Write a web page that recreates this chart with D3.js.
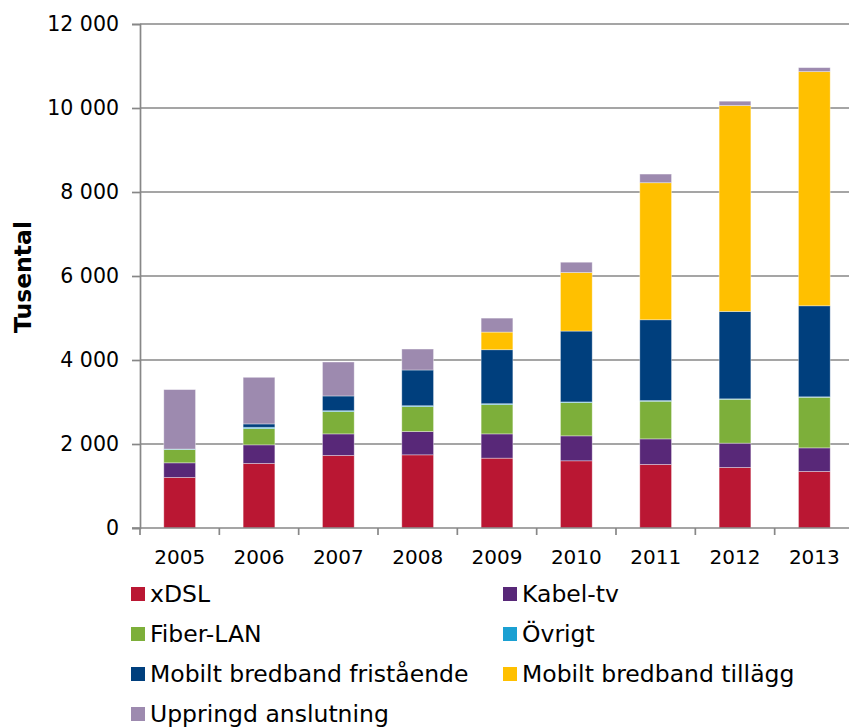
<!DOCTYPE html>
<html>
<head>
<meta charset="utf-8">
<script src="https://cdn.jsdelivr.net/npm/d3@7"></script>
<style>
  body { margin: 0; background: #fff; }
  text { font-family: "DejaVu Sans", Verdana, sans-serif; fill: #000; }
</style>
</head>
<body>
<svg id="chart"></svg>
<script>

var years = ["2005", "2006", "2007", "2008", "2009", "2010", "2011", "2012", "2013"]

// Tusental
var xdsl     = [1205, 1537, 1727, 1742, 1663, 1600, 1513, 1442, 1347]
var kabel    = [347, 443, 514, 555, 578, 594, 609, 578, 561]
var fiber    = [318, 388, 531, 594, 698, 792, 896, 1045, 1205]
var ovrigt   = [10, 30, 20, 20, 20, 15, 15, 10, 10]
var mobFrist = [0, 80, 352, 851, 1286, 1688, 1925, 2081, 2168]
var mobTill  = [0, 0, 0, 0, 420, 1394, 3263, 4902, 5575]
var upringd  = [1415, 1110, 808, 499, 332, 245, 206, 104, 95]

var yTicks = [0, 2000, 4000, 6000, 8000, 10000, 12000]

var series = [
  { key: "xDSL", values: xdsl, color: "#BA1733" },
  { key: "Kabel-tv", values: kabel, color: "#582878" },
  { key: "Fiber-LAN", values: fiber, color: "#7DAF3A" },
  { key: "Övrigt", values: ovrigt, color: "#1BA0D2" },
  { key: "Mobilt bredband fristående", values: mobFrist, color: "#003F7D" },
  { key: "Mobilt bredband tillägg", values: mobTill, color: "#FFC000" },
  { key: "Uppringd anslutning", values: upringd, color: "#9D8AAF" }
]

var width = 849
var height = 727

var svg = d3.select("#chart")
  .attr("width", width)
  .attr("height", height)

var rows = years.map(function(y, i) {
  var r = { year: y }
  series.forEach(function(s) { r[s.key] = s.values[i] })
  return r
})

var stacked = d3.stack().keys(series.map(function(s) { return s.key }))(rows)

var x = d3.scaleBand().domain(years).range([140, 854]).paddingInner(0.6).paddingOuter(0.3)
var xTicksScale = d3.scaleBand().domain(years).range([140, 854])
var y = d3.scaleLinear().domain([0, 12000]).range([528, 24])

var gridColor = "#878787"

// gridlines
svg.append("g")
  .selectAll("line")
  .data(yTicks.slice(1))
  .enter().append("line")
  .attr("x1", 140).attr("x2", width)
  .attr("y1", function(d) { return y(d) }).attr("y2", function(d) { return y(d) })
  .attr("stroke", gridColor).attr("stroke-width", 1.7)

// bars
svg.append("g")
  .selectAll("g")
  .data(stacked)
  .enter().append("g")
  .attr("fill", function(d, i) { return series[i].color })
  .selectAll("rect")
  .data(function(d) { return d })
  .enter().append("rect")
  .filter(function(d) { return d[1] - d[0] > 0 })
  .attr("x", function(d) { return x(d.data.year) })
  .attr("width", x.bandwidth())
  .attr("y", function(d) { return y(d[1]) })
  .attr("height", function(d) { return y(d[0]) - y(d[1]) })
  .attr("stroke", "rgba(255,255,255,0.45)")
  .attr("stroke-width", 0.8)

// y axis
var yAxis = svg.append("g")
  .attr("transform", "translate(140,0)")
  .call(d3.axisLeft(y).tickValues(yTicks).tickSize(8).tickPadding(13)
    .tickFormat(function(d) { return d3.format(",")(d).replace(",", " ") }))
yAxis.select(".domain").attr("stroke", gridColor).attr("stroke-width", 1.7)
yAxis.selectAll(".tick line").attr("stroke", gridColor).attr("stroke-width", 1.7)
yAxis.selectAll("text").style("font-size", "20.5px").style("font-family", "DejaVu Sans, Verdana, sans-serif").attr("fill", "#000")

// x axis
svg.append("line")
  .attr("x1", 132).attr("x2", width)
  .attr("y1", y(0)).attr("y2", y(0))
  .attr("stroke", gridColor).attr("stroke-width", 1.7)

svg.append("g")
  .selectAll("line")
  .data(years)
  .enter().append("line")
  .attr("x1", function(d) { return xTicksScale(d) })
  .attr("x2", function(d) { return xTicksScale(d) })
  .attr("y1", y(0)).attr("y2", y(0) + 7)
  .attr("stroke", gridColor).attr("stroke-width", 1.7)

svg.append("g")
  .selectAll("text")
  .data(years)
  .enter().append("text")
  .attr("x", function(d) { return x(d) + x.bandwidth() / 2 })
  .attr("y", 564)
  .attr("text-anchor", "middle")
  .style("font-size", "20px")
  .text(function(d) { return d })

// y title
svg.append("text")
  .attr("transform", "translate(31,277) rotate(-90)")
  .attr("text-anchor", "middle")
  .style("font-size", "23.5px")
  .style("font-weight", "bold")
  .text("Tusental")

// legend, two columns
var legend = svg.append("g")
  .selectAll("g")
  .data(series)
  .enter().append("g")
  .attr("transform", function(d, i) {
    var col = i % 2
    var row = Math.floor(i / 2)
    return "translate(" + (col ? 503 : 131) + "," + (587 + row * 40) + ")"
  })

legend.append("rect")
  .attr("width", 14).attr("height", 14)
  .attr("fill", function(d) { return d.color })

legend.append("text")
  .attr("x", 19)
  .attr("y", 14.5)
  .style("font-size", "23.5px")
  .text(function(d) { return d.key })

</script>
</body>
</html>
